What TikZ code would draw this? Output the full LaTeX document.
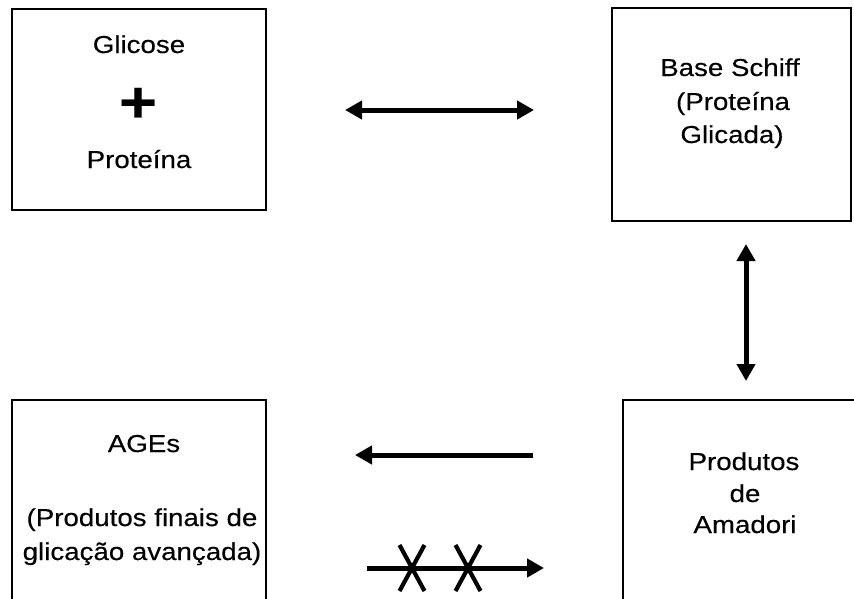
\documentclass[tikz,border=0pt]{standalone}
\usepackage{fontspec}
\setmainfont{Liberation Sans}[FakeStretch=1.13, FakeBold=0.3]
\usetikzlibrary{arrows.meta}
\tikzset{
  boxnode/.style={draw=black, line width=1.5pt, inner sep=0pt, rectangle},
  txt/.style={anchor=base, inner sep=0pt, font=\fontsize{24.5}{33}\selectfont},
  arr/.style={line width=5pt, -{Triangle[length=17pt,width=18pt]}},
  darr/.style={line width=5pt, {Triangle[length=17pt,width=18pt]}-{Triangle[length=17pt,width=18pt]}},
  crossline/.style={line width=4.2pt}
}
\begin{document}
\begin{tikzpicture}[x=1pt,y=-1pt]
\useasboundingbox (0,0) rectangle (854,598);
\clip (0,0) rectangle (854,598);
% boxes
\node[boxnode, minimum width=254pt, minimum height=201pt] (b1) at (139,109.5) {};
\node[boxnode, minimum width=239pt, minimum height=213pt] (b2) at (731.5,114.5) {};
\node[boxnode, minimum width=254pt, minimum height=220pt] (b3) at (139,510) {};
\node[boxnode, minimum width=257pt, minimum height=220pt] (b4) at (751.5,510) {};
% texts
\node[txt] (t1a) at (139,53) {Glicose};
\node[inner sep=0pt, font=\fontsize{58}{58}\bfseries] (plus) at (138,105) {+};
\node[txt] (t1b) at (139,168) {Proteína};
\node[txt] (t2a) at (730,76) {Base Schiff};
\node[txt] (t2b) at (733,110) {(Proteína};
\node[txt] (t2c) at (732,143) {Glicada)};
\node[txt] (t3a) at (144,452) {AGEs};
\node[txt] (t3b) at (142,526) {(Produtos finais de};
\node[txt] (t3c) at (142,560) {glicação avançada)};
\node[txt] (t4a) at (744,470) {Produtos};
\node[txt] (t4b) at (745,502) {de};
\node[txt] (t4c) at (745,533) {Amadori};
% connector ends
\coordinate (h1) at (345,110);
\coordinate (h2) at (534,110);
\coordinate (v1) at (746,244);
\coordinate (v2) at (746,381);
\coordinate (l1) at (533,455);
\coordinate (l2) at (355,455);
\coordinate (r1) at (367,568);
\coordinate (r2) at (544,568);
\draw[darr] (h1) -- (h2);
\draw[darr] (v1) -- (v2);
\draw[arr] (l1) -- (l2);
\draw[arr] (r1) -- (r2);
% crosses on blocked arrow
\coordinate (x1) at (412,568);
\coordinate (x2) at (468,568);
\draw[crossline] ([shift={(-12.5,-23)}]x1) -- ([shift={(12.5,23)}]x1);
\draw[crossline] ([shift={(12.5,-23)}]x1) -- ([shift={(-12.5,23)}]x1);
\draw[crossline] ([shift={(-12.5,-23)}]x2) -- ([shift={(12.5,23)}]x2);
\draw[crossline] ([shift={(12.5,-23)}]x2) -- ([shift={(-12.5,23)}]x2);
\end{tikzpicture}
\end{document}
